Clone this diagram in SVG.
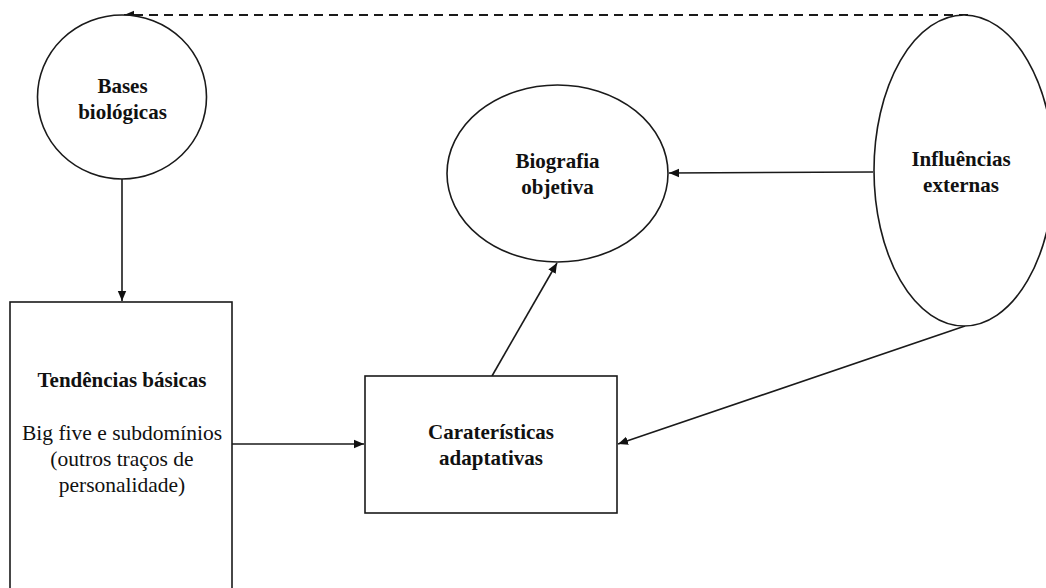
<svg xmlns="http://www.w3.org/2000/svg" width="1046" height="588" viewBox="0 0 1046 588">
<style>
.shape{fill:#fff;stroke:#1a1a1a;stroke-width:1.6}
.edge{fill:none;stroke:#1a1a1a;stroke-width:1.6}
.dash{stroke-width:1.9;stroke-dasharray:9 6}
.b{font-family:"Liberation Serif","Times New Roman",serif;font-weight:bold;font-size:21px;fill:#111;text-anchor:middle}
.r{font-family:"Liberation Serif","Times New Roman",serif;font-size:21.5px;fill:#111;text-anchor:middle}
</style>
<defs>
<marker id="ah" viewBox="0 0 10 10" refX="10" refY="5" markerWidth="10" markerHeight="10" markerUnits="userSpaceOnUse" orient="auto">
<path d="M0,0.8 L10,5 L0,9.2 Z" fill="#111"/>
</marker>
</defs>
<rect width="1046" height="588" fill="#fff"/>
<g id="connectors">
<line class="edge dash" x1="968" y1="15" x2="124" y2="15" marker-end="url(#ah)"/>
<line class="edge" x1="122" y1="179" x2="122" y2="301" marker-end="url(#ah)"/>
<line class="edge" x1="873" y1="172" x2="669" y2="173" marker-end="url(#ah)"/>
<line class="edge" x1="492" y1="376" x2="557" y2="263" marker-end="url(#ah)"/>
<line class="edge" x1="232" y1="444" x2="364" y2="444" marker-end="url(#ah)"/>
<line class="edge" x1="965" y1="326" x2="618" y2="444" marker-end="url(#ah)"/>
</g>
<g id="bases">
<ellipse class="shape" cx="122" cy="97" rx="84.5" ry="82"/>
<text class="b" x="122.5" y="93">Bases</text>
<text class="b" x="122.5" y="119">biológicas</text>
</g>
<g id="influencias">
<ellipse class="shape" cx="964" cy="170.5" rx="90" ry="155.5"/>
<text class="b" x="961" y="166">Influências</text>
<text class="b" x="961" y="192">externas</text>
</g>
<g id="biografia">
<ellipse class="shape" cx="557.5" cy="173.5" rx="110.5" ry="88.5"/>
<text class="b" x="557.5" y="168">Biografia</text>
<text class="b" x="557.5" y="194">objetiva</text>
</g>
<g id="tendencias">
<rect class="shape" x="10" y="302" width="222" height="300"/>
<text class="b" x="122" y="387">Tendências básicas</text>
<text class="r" x="122" y="440">Big five e subdomínios</text>
<text class="r" x="122" y="466">(outros traços de</text>
<text class="r" x="122" y="492">personalidade)</text>
</g>
<g id="caracteristicas">
<rect class="shape" x="365" y="376" width="252" height="137"/>
<text class="b" x="491" y="439">Caraterísticas</text>
<text class="b" x="491" y="465">adaptativas</text>
</g>
</svg>
